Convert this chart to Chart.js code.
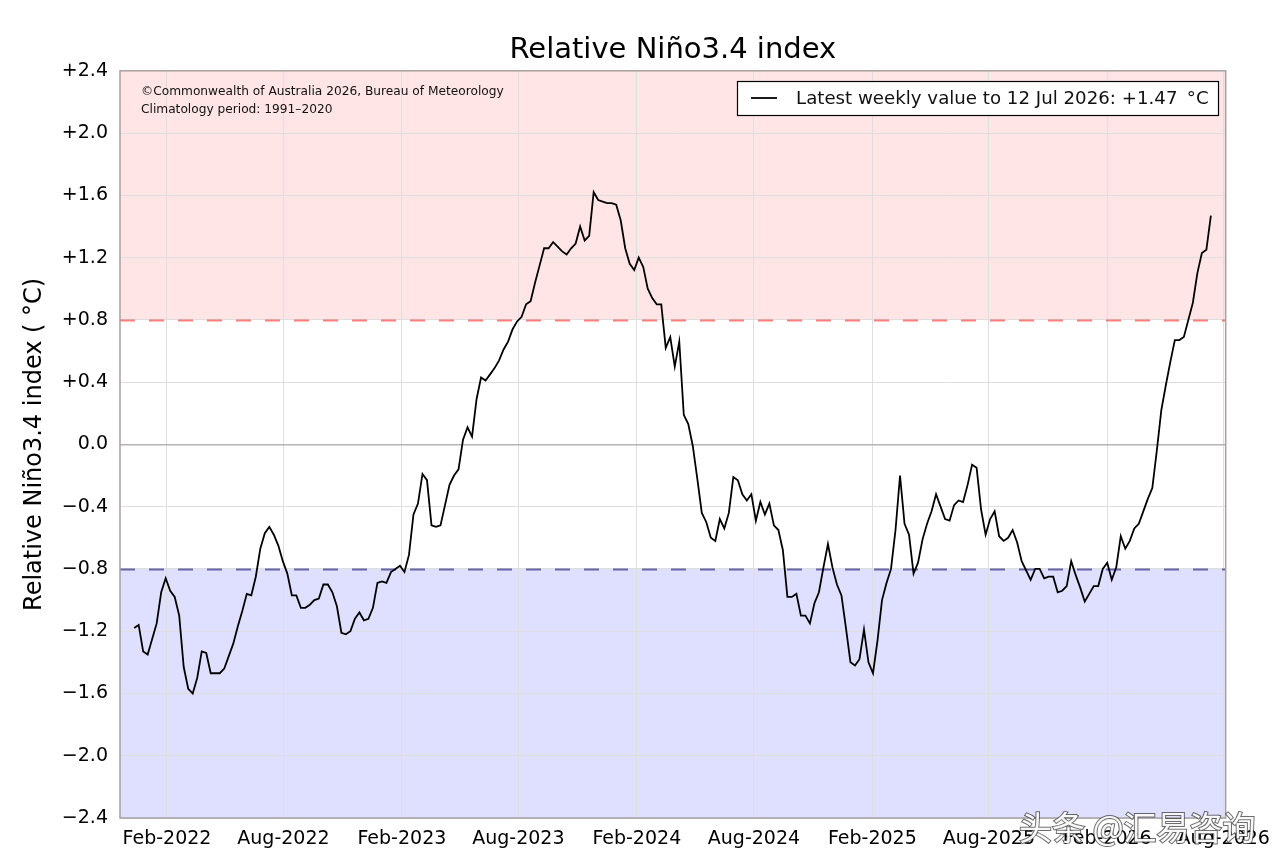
<!DOCTYPE html>
<html>
<head>
<meta charset="utf-8">
<title>Relative Niño3.4 index</title>
<script src="https://cdn.jsdelivr.net/npm/chart.js@4.4.1/dist/chart.umd.min.js"></script>
<style>
  html, body { margin: 0; padding: 0; background: #fff; }
  #wrap { width: 1280px; height: 868px; }
</style>
</head>
<body>
<div id="wrap"><canvas id="ninoChart" width="1280" height="868"></canvas></div>
<script>
// Weekly relative Niño3.4 values (°C), oldest first, last week ending 12 Jul 2026
const lastWeek = '2026-07-12';
const ninoValues = [
    -1.18, -1.16, -1.33, -1.35, -1.25, -1.15, -0.95, -0.86, -0.94, -0.98,
    -1.10, -1.43, -1.57, -1.60, -1.50, -1.33, -1.34, -1.47, -1.47, -1.47,
    -1.44, -1.36, -1.28, -1.17, -1.07, -0.96, -0.97, -0.85, -0.67, -0.57,
    -0.53, -0.58, -0.65, -0.75, -0.83, -0.97, -0.97, -1.05, -1.05, -1.03,
    -1.00,
    -0.99, -0.90, -0.90, -0.95, -1.04, -1.21, -1.22, -1.20, -1.12, -1.08,
    -1.13, -1.12, -1.05, -0.89, -0.88, -0.89, -0.82, -0.80, -0.78, -0.82,
    -0.71, -0.45, -0.38, -0.19, -0.23, -0.52, -0.53, -0.52, -0.39, -0.26,
    -0.20, -0.16, 0.03, 0.11, 0.05, 0.29, 0.43, 0.41, 0.45, 0.49,
    0.54, 0.61, 0.66, 0.74, 0.79, 0.82, 0.90, 0.92, 1.04, 1.15,
    1.26, 1.26, 1.30, 1.27, 1.24, 1.22, 1.26, 1.29, 1.40, 1.31,
    1.34, 1.62, 1.57, 1.56, 1.55, 1.55, 1.54, 1.44, 1.26, 1.16,
    1.12, 1.20, 1.14, 1.00, 0.94, 0.90, 0.90, 0.62, 0.69, 0.50,
    0.66, 0.19, 0.13, -0.01, -0.22, -0.44, -0.50, -0.60, -0.62, -0.48,
    -0.54, -0.44, -0.21, -0.23, -0.32, -0.36, -0.32, -0.49, -0.37, -0.45,
    -0.38, -0.52, -0.55, -0.68, -0.98, -0.98, -0.96, -1.10, -1.10, -1.15,
    -1.02, -0.95, -0.79, -0.64, -0.79, -0.90, -0.97, -1.18, -1.40, -1.42,
    -1.38, -1.19, -1.40, -1.47, -1.26, -1.00, -0.89, -0.80, -0.55, -0.20,
    -0.51, -0.58, -0.83, -0.76, -0.61, -0.51, -0.43, -0.32, -0.40, -0.48,
    -0.49, -0.39, -0.36, -0.37, -0.26, -0.13, -0.15, -0.42, -0.58, -0.48,
    -0.43, -0.59, -0.62, -0.60, -0.55, -0.63, -0.75, -0.81, -0.87, -0.80,
    -0.80, -0.86, -0.85, -0.85, -0.95, -0.94, -0.91, -0.75, -0.84, -0.92,
    -1.01, -0.96, -0.91, -0.91, -0.80, -0.76, -0.87, -0.79, -0.59, -0.67,
    -0.62, -0.54, -0.51, -0.43, -0.35, -0.28, -0.04, 0.22, 0.38, 0.53,
    0.67, 0.67, 0.69, 0.80, 0.91, 1.10, 1.23, 1.25, 1.47
];

// Axis ticks
const yTicks = [-2.4, -2.0, -1.6, -1.2, -0.8, -0.4, 0, 0.4, 0.8, 1.2, 1.6, 2.0, 2.4];
const xTickDates = [
    '2022-02-01', '2022-08-01', '2023-02-01', '2023-08-01', '2024-02-01',
    '2024-08-01', '2025-02-01', '2025-08-01', '2026-02-01', '2026-08-01'
];
const xRange = ['2021-11-20', '2026-08-04'];

// El Niño / La Niña thresholds
const thresholds = [0.8, -0.8];

const copyrightLines = [
    '©Commonwealth of Australia 2026, Bureau of Meteorology',
    'Climatology period: 1991–2020'
];
const legendLabel = 'Latest weekly value to 12 Jul 2026: +1.47 \u2009°C';
const watermark = '头条 @汇易咨询';

const monthNames = ['Jan', 'Feb', 'Mar', 'Apr', 'May', 'Jun', 'Jul', 'Aug', 'Sep', 'Oct', 'Nov', 'Dec'];
const DAY = 86400000;
const FONT = "'DejaVu Sans', 'Liberation Sans', sans-serif";

// Build {x, y} points: weekly steps back from the last week
const endTime = Date.parse(lastWeek);
const ninoPoints = ninoValues.map((v, i) => ({
    x: endTime - (ninoValues.length - 1 - i) * 7 * DAY,
    y: v
}));

/**
 * Bands, threshold lines, frame, notes and legend
 */
const ninoDecor = {
    id: 'ninoDecor',
    beforeDraw(chart) {
        const { ctx, chartArea: a, scales: { y } } = chart;
        ctx.save();
        ctx.fillStyle = '#ffffff';
        ctx.fillRect(0, 0, chart.width, chart.height);
        const yHi = y.getPixelForValue(thresholds[0]);
        const yLo = y.getPixelForValue(thresholds[1]);
        ctx.fillStyle = 'rgba(255, 0, 0, 0.1)';
        ctx.fillRect(a.left, a.top, a.right - a.left, yHi - a.top);
        ctx.fillStyle = 'rgba(0, 0, 255, 0.125)';
        ctx.fillRect(a.left, yLo, a.right - a.left, a.bottom - yLo);
        ctx.restore();
    },
    beforeDatasetsDraw(chart) {
        const { ctx, chartArea: a, scales: { y } } = chart;
        const colorsDash = ['rgba(255, 40, 40, 0.6)', 'rgba(20, 20, 110, 0.6)'];
        ctx.save();
        ctx.lineWidth = 1.8;
        ctx.setLineDash([15, 14]);
        thresholds.forEach((t, i) => {
            const py = Math.round(y.getPixelForValue(t)) + 0.5;
            ctx.strokeStyle = colorsDash[i];
            ctx.beginPath();
            ctx.moveTo(a.left, py);
            ctx.lineTo(a.right, py);
            ctx.stroke();
        });
        ctx.restore();
    },
    afterDatasetsDraw(chart) {
        const { ctx, chartArea: a } = chart;
        ctx.save();
        // frame
        ctx.strokeStyle = '#a8a0a0';
        ctx.lineWidth = 1.5;
        ctx.strokeRect(a.left, a.top, a.right - a.left, a.bottom - a.top);

        // copyright notes
        ctx.fillStyle = '#111';
        ctx.font = '12.2px ' + FONT;
        ctx.textBaseline = 'middle';
        ctx.textAlign = 'left';
        copyrightLines.forEach((line, i) => {
            ctx.fillText(line, a.left + 21, a.top + 21 + i * 18);
        });

        // legend box
        const bx = 737, by = 81, bw = 481, bh = 34;
        ctx.fillStyle = '#ffffff';
        ctx.fillRect(bx, by, bw, bh);
        ctx.strokeStyle = '#000';
        ctx.lineWidth = 1.2;
        ctx.strokeRect(bx + 0.5, by + 0.5, bw, bh);
        ctx.lineWidth = 1.8;
        ctx.beginPath();
        ctx.moveTo(bx + 14, by + bh / 2);
        ctx.lineTo(bx + 40, by + bh / 2);
        ctx.stroke();
        ctx.fillStyle = '#111';
        ctx.font = '18.2px ' + FONT;
        ctx.fillText(legendLabel, bx + 59, by + bh / 2 + 1);
        ctx.restore();
    },
    afterDraw(chart) {
        const { ctx } = chart;
        ctx.save();
        ctx.font = "33px 'Noto Sans CJK SC', sans-serif";
        ctx.textBaseline = 'middle';
        ctx.textAlign = 'left';
        ctx.lineWidth = 2;
        ctx.strokeStyle = 'rgba(60, 60, 60, 0.75)';
        ctx.fillStyle = 'rgba(255, 255, 255, 0.95)';
        ctx.strokeText(watermark, 1019, 827);
        ctx.fillText(watermark, 1019, 827);
        ctx.restore();
    }
};

document.addEventListener('DOMContentLoaded', function() {
    initializeNinoChart();
});

function initializeNinoChart() {
    const ninoCtx = document.getElementById('ninoChart')?.getContext('2d');
    if (!ninoCtx) return;

    new Chart(ninoCtx, {
        type: 'line',
        data: {
            datasets: [{
                label: legendLabel,
                data: ninoPoints,
                borderColor: '#000000',
                borderWidth: 1.8,
                pointRadius: 0,
                tension: 0,
                fill: false
            }]
        },
        plugins: [ninoDecor],
        options: {
            responsive: false,
            animation: false,
            events: [],
            layout: {
                padding: { left: 0, right: 53, top: 0, bottom: 0 }
            },
            plugins: {
                legend: { display: false },
                tooltip: { enabled: false },
                title: {
                    display: true,
                    fullSize: false,
                    text: 'Relative Niño3.4 index',
                    color: '#000',
                    font: { family: FONT, size: 29, weight: 'normal' },
                    padding: { top: 33, bottom: 3 }
                }
            },
            scales: {
                x: {
                    type: 'linear',
                    min: Date.parse(xRange[0]),
                    max: Date.parse(xRange[1]),
                    afterBuildTicks: scale => {
                        scale.ticks = xTickDates.map(d => ({ value: Date.parse(d) }));
                    },
                    afterFit: scale => { scale.height = 50; },
                    border: { display: false },
                    grid: { color: '#dedede', lineWidth: 1, drawTicks: false },
                    ticks: {
                        autoSkip: false,
                        maxRotation: 0,
                        padding: 10,
                        color: '#000',
                        font: { family: FONT, size: 19 },
                        callback: value => {
                            const d = new Date(value);
                            return monthNames[d.getUTCMonth()] + '-' + d.getUTCFullYear();
                        }
                    }
                },
                y: {
                    min: -2.4,
                    max: 2.4,
                    afterBuildTicks: scale => {
                        scale.ticks = yTicks.map(v => ({ value: v }));
                    },
                    afterFit: scale => { scale.width = 120; },
                    border: { display: false },
                    grid: {
                        drawTicks: false,
                        color: ctx => (ctx.tick && ctx.tick.value === 0 ? '#b4b4b4' : '#dedede'),
                        lineWidth: ctx => (ctx.tick && ctx.tick.value === 0 ? 1.5 : 1)
                    },
                    title: {
                        display: true,
                        text: 'Relative Niño3.4 index ( °C)',
                        color: '#000',
                        font: { family: FONT, size: 24 },
                        padding: { top: 20, bottom: 0 }
                    },
                    ticks: {
                        padding: 12,
                        color: '#000',
                        font: { family: FONT, size: 19 },
                        callback: value => {
                            if (Math.abs(value) < 1e-9) return '0.0';
                            return (value > 0 ? '+' : '\u2212') + Math.abs(value).toFixed(1);
                        }
                    }
                }
            }
        }
    });
}
</script>
</body>
</html>
